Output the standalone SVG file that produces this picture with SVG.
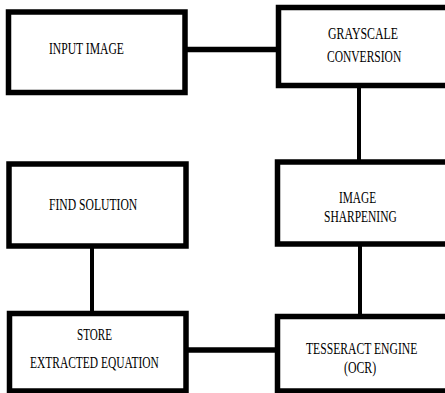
<svg xmlns="http://www.w3.org/2000/svg" width="445" height="393" viewBox="0 0 445 393">
<style>
.box{fill:#fff;stroke:#000;stroke-width:5.5}
.conn{stroke:#000;fill:none}
.h{stroke-width:5.5}
.v{stroke-width:4}
text{font-family:"Liberation Serif","Times New Roman",serif;font-size:17px;fill:#000}
</style>
<rect x="0" y="0" width="445" height="393" fill="#fff"/>
<g id="connectors">
<line class="conn h" x1="185" y1="49.5" x2="278.5" y2="49.5"/>
<line class="conn v" x1="359" y1="85.5" x2="359" y2="162"/>
<line class="conn v" x1="360" y1="244" x2="360" y2="316.5"/>
<line class="conn h" x1="186" y1="350" x2="277.5" y2="350"/>
<line class="conn v" x1="92" y1="246" x2="92" y2="313.5"/>
</g>
<g id="input-image">
<rect class="box" x="8.5" y="12" width="176.5" height="80.5"/>
<text transform="translate(49,54) scale(0.7,1)" textLength="107" lengthAdjust="spacingAndGlyphs">INPUT IMAGE</text>
</g>
<g id="grayscale-conversion">
<rect class="box" x="278.5" y="7.5" width="175" height="78"/>
<text transform="translate(328,39) scale(0.7,1)" textLength="100" lengthAdjust="spacingAndGlyphs">GRAYSCALE</text>
<text transform="translate(327,62) scale(0.7,1)" textLength="106" lengthAdjust="spacingAndGlyphs">CONVERSION</text>
</g>
<g id="image-sharpening">
<rect class="box" x="277.5" y="162" width="176" height="82"/>
<text transform="translate(339,203) scale(0.7,1)" textLength="53" lengthAdjust="spacingAndGlyphs">IMAGE</text>
<text transform="translate(324,222) scale(0.7,1)" textLength="104" lengthAdjust="spacingAndGlyphs">SHARPENING</text>
</g>
<g id="find-solution">
<rect class="box" x="9" y="164" width="177" height="82"/>
<text transform="translate(49,210) scale(0.7,1)" textLength="126" lengthAdjust="spacingAndGlyphs">FIND SOLUTION</text>
</g>
<g id="store-extracted-equation">
<rect class="box" x="9.5" y="313.5" width="176.5" height="77.5"/>
<text transform="translate(77,340) scale(0.7,1)" textLength="50" lengthAdjust="spacingAndGlyphs">STORE</text>
<text transform="translate(30,368) scale(0.7,1)" textLength="184" lengthAdjust="spacingAndGlyphs">EXTRACTED EQUATION</text>
</g>
<g id="tesseract-engine">
<rect class="box" x="277.5" y="316.5" width="176" height="74.5"/>
<text transform="translate(306,354) scale(0.7,1)" textLength="159" lengthAdjust="spacingAndGlyphs">TESSERACT  ENGINE</text>
<text transform="translate(344,373) scale(0.7,1)" textLength="46" lengthAdjust="spacingAndGlyphs">(OCR)</text>
</g>
</svg>
